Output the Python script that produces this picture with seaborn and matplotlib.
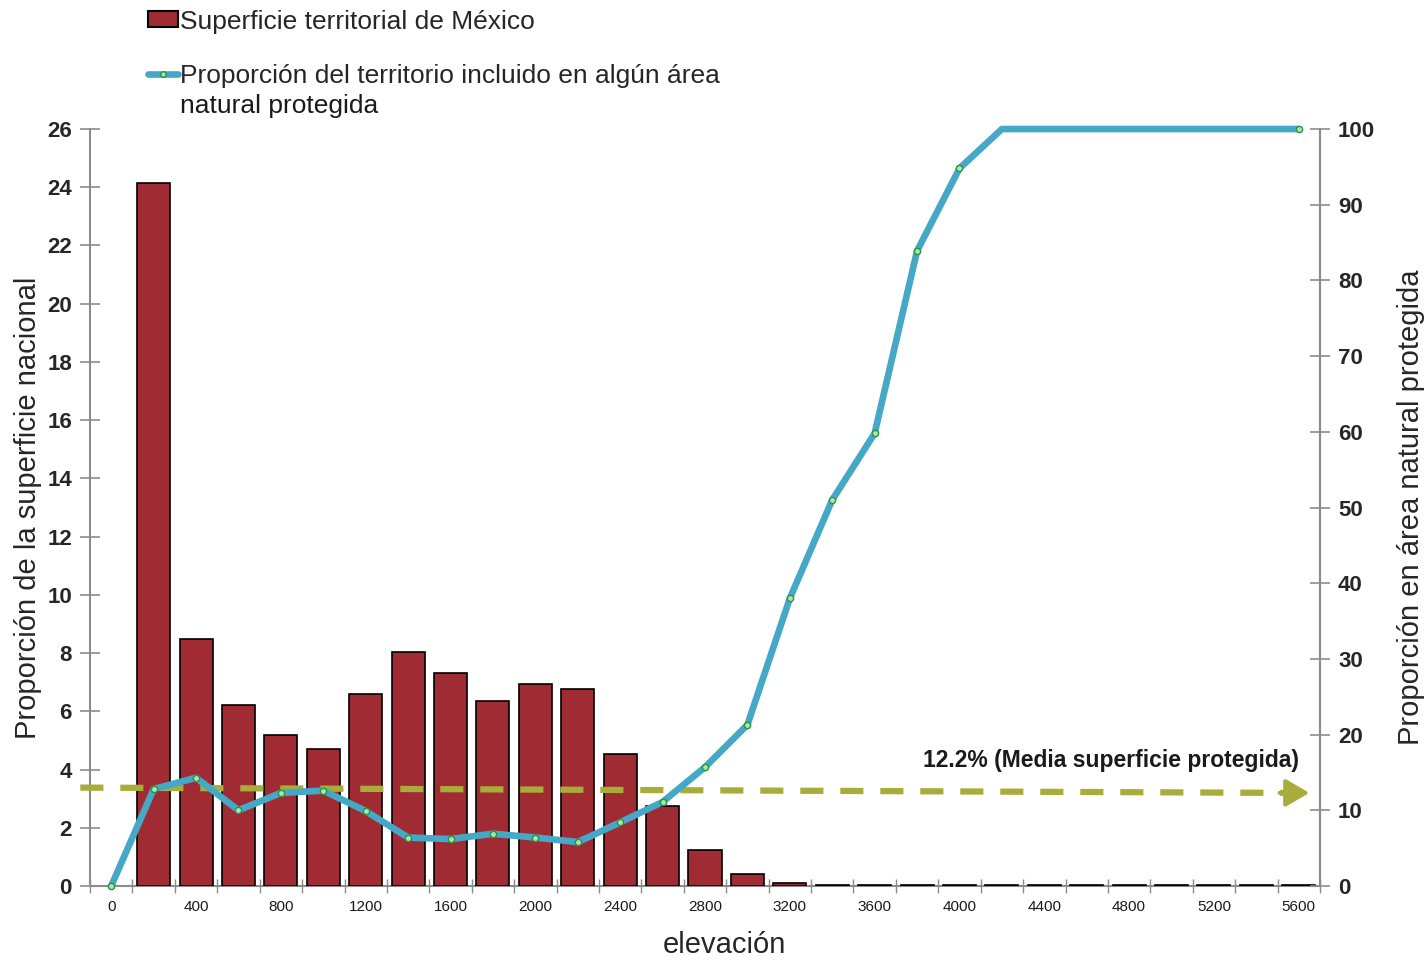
import numpy as np
import pandas as pd
import matplotlib
matplotlib.use("Agg")
import matplotlib.pyplot as plt
import seaborn as sns
from matplotlib.patches import Patch
from matplotlib.lines import Line2D

# Datos
elevacion = [0, 200, 400, 600, 800, 1000, 1200, 1400, 1600, 1800, 2000, 2200, 2400, 2600,
             2800, 3000, 3200, 3400, 3600, 3800, 4000, 4200, 4400, 4600, 4800, 5000, 5200,
             5400, 5600]
superficie = [np.nan, 24.15, 8.5, 6.2, 5.2, 4.7, 6.6, 8.05, 7.3, 6.35, 6.95, 6.75, 4.55, 2.75,
              1.25, 0.42, 0.1, 0.05, 0.03, 0.03, 0.03, 0.03, 0.03, 0.03, 0.03, 0.03, 0.03,
              0.03, 0.03]
proporcion_anp = [0, 12.8, 14.3, 10.0, 12.3, 12.6, 9.9, 6.4, 6.2, 6.9, 6.4, 5.8, 8.4, 11.1,
                  15.7, 21.3, 38.0, 51.0, 59.8, 83.9, 94.8, 100, 100, 100, 100, 100, 100,
                  100, 100]
media_protegida = 12.2

color_barra = "#A02B33"
color_linea = "#45A8C6"
color_flecha = "#A8AD3A"
gris = "#8C8C8C"

sns.set_theme(style="white")
plt.rcParams["font.family"] = ["Liberation Sans", "DejaVu Sans"]

df = pd.DataFrame({"elevacion": elevacion, "superficie": superficie,
                   "proporcion": proporcion_anp})
pos = np.arange(len(elevacion))

fig = plt.figure(figsize=(14.27, 9.6), dpi=100)
ax = fig.add_axes([0.0631, 0.0771, 0.8619, 0.7885])
ax2 = ax.twinx()

# Barras: superficie territorial
sns.barplot(data=df, x="elevacion", y="superficie", order=elevacion, ax=ax,
            color=color_barra, edgecolor="black", linewidth=1.2, width=0.78,
            saturation=1, errorbar=None, zorder=3)

# Linea: proporcion en ANP
sns.lineplot(x=pos, y=df["proporcion"], ax=ax2, color=color_linea, linewidth=4.8,
             marker="o", markersize=4.5, markeredgecolor="#1E9A3A",
             markerfacecolor="#B8DDB8", markeredgewidth=1.0,
             markevery=list(range(0, 21)) + [28], clip_on=False, zorder=5)

# Flecha punteada de la media
ax2.plot([-0.73, 27.7], [13.0, 12.3], linestyle=(0, (3.7, 2.7)), color=color_flecha,
         linewidth=4.5, clip_on=False, zorder=4, solid_capstyle="butt")
ax2.annotate("", xy=(28.25, 12.3), xytext=(27.55, 12.3),
             arrowprops=dict(arrowstyle="-|>,head_length=1.2,head_width=0.7",
                             color=color_flecha, lw=3, shrinkA=0, shrinkB=0),
             annotation_clip=False)
ax2.text(28.0, 15.0, f"{media_protegida}% (Media superficie protegida)", ha="right",
         va="bottom", fontsize=16.5, fontweight="bold", color="#1a1a1a")

# Ejes
ax.set_xlim(-0.5, 28.5)
ax.set_ylim(0, 26)
ax2.set_ylim(0, 100)
ax.set_yticks(np.arange(0, 27, 2))
ax2.set_yticks(np.arange(0, 101, 10))
ax.set_xticks(pos)
ax.set_xticklabels([str(e) if i % 2 == 0 else "" for i, e in enumerate(elevacion)])
ax.set_xticks(np.arange(-0.5, 29, 1), minor=True)

ax.tick_params(axis="x", which="major", length=0, labelsize=11, pad=10, labelcolor="#1a1a1a")
ax.tick_params(axis="x", which="minor", bottom=True, length=10, direction="inout",
               color=gris, width=1)
ax.tick_params(axis="y", left=True, length=14, direction="inout", color=gris, width=1.2,
               labelsize=16, pad=6)
ax2.tick_params(axis="y", right=True, length=14, direction="inout", color=gris, width=1.2,
                labelsize=16, pad=6)
for lab in ax.get_yticklabels() + ax2.get_yticklabels():
    lab.set_fontweight("bold")

for s in ["left", "bottom", "right"]:
    ax.spines[s].set_color(gris)
    ax.spines[s].set_linewidth(1.5)
ax.spines["bottom"].set_zorder(1)
ax.spines["top"].set_visible(False)
for s in ["left", "bottom", "top"]:
    ax2.spines[s].set_visible(False)
ax2.spines["right"].set_color(gris)
ax2.spines["right"].set_linewidth(1.5)

ax.set_xlabel("elevación", fontsize=21, labelpad=12)
ax.xaxis.label.set_x(0.516)
ax.set_ylabel("Proporción de la superficie nacional", fontsize=21, labelpad=4)
ax2.set_ylabel("Proporción en área natural protegida", fontsize=21, labelpad=16)

# Leyenda
handles = [Patch(facecolor=color_barra, edgecolor="black", linewidth=1.5),
           Line2D([], [], color=color_linea, linewidth=4.8, marker="o", markersize=4,
                  markeredgecolor="#1E9A3A", markerfacecolor="#B8DDB8")]
labels = ["Superficie territorial de México",
          "Proporción del territorio incluido en algún área"]
leg = fig.legend(handles, labels, loc="upper left", bbox_to_anchor=(0.096, 1.001),
                 frameon=False, fontsize=19, handlelength=1.15, handleheight=0.53,
                 handletextpad=0.08, labelspacing=1.15, borderaxespad=0)

# segunda linea de la etiqueta
fig.canvas.draw()
bb = leg.get_texts()[1].get_window_extent()
fig.text(bb.x0 / fig.bbox.width, ((bb.y0 + bb.y1) / 2 - 30) / fig.bbox.height,
         "natural protegida", fontsize=19, ha="left", va="center", color="#1a1a1a")

fig.savefig("out.png", dpi=100)
